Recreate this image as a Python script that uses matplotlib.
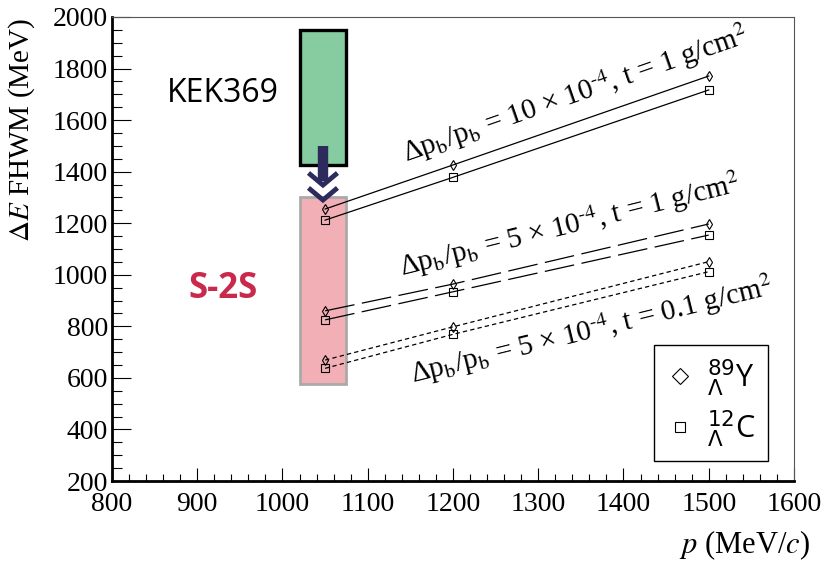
import matplotlib
matplotlib.use("Agg")
import matplotlib.pyplot as plt
from matplotlib.patches import Rectangle
from matplotlib.lines import Line2D
from matplotlib.font_manager import FontProperties
from matplotlib.ticker import MultipleLocator

plt.rcParams['font.family'] = ['Liberation Serif', 'DejaVu Serif']
plt.rcParams['mathtext.fontset'] = 'stix'

# ---- data ----
p_values = [1050, 1200, 1500]
y89_res10 = [1255, 1426, 1771]
c12_res10 = [1212, 1378, 1717]
y89_res5 = [860, 964, 1197]
c12_res5 = [825, 934, 1154]
y89_res5_thin = [669, 798, 1051]
c12_res5_thin = [637, 769, 1012]

kek_box = (1020, 1075, 1425, 1950)   # xmin, xmax, ymin, ymax
s2s_box = (1020, 1075, 575, 1300)

x_ticks = [800, 900, 1000, 1100, 1200, 1300, 1400, 1500, 1600]
y_ticks = [200, 400, 600, 800, 1000, 1200, 1400, 1600, 1800, 2000]

labels = [
    'Δp$_\\mathrm{b}$/p$_\\mathrm{b}$ = 10 × 10$^{\\text{-}4}$, t = 1 g/cm$^2$',
    'Δp$_\\mathrm{b}$/p$_\\mathrm{b}$ = 5 × 10$^{\\text{-}4}$, t = 1 g/cm$^2$',
    'Δp$_\\mathrm{b}$/p$_\\mathrm{b}$ = 5 × 10$^{\\text{-}4}$, t = 0.1 g/cm$^2$',
]
label_pos = [(1344, 1702, 19.2), (1337, 1192, 14.0), (1362, 784, 13.8)]

fig = plt.figure(figsize=(8.35, 5.61), dpi=100)
ax = fig.add_axes([0.1341, 0.1426, 0.9509 - 0.1341, 0.9697 - 0.1426])
ax.set_xlim(800, 1600)
ax.set_ylim(200, 2000)

# boxes
ax.add_patch(Rectangle((kek_box[0], kek_box[2]), kek_box[1] - kek_box[0], kek_box[3] - kek_box[2],
                       facecolor='#87CCA0', edgecolor='black', lw=2.4, zorder=1))
ax.add_patch(Rectangle((s2s_box[0], s2s_box[2]), s2s_box[1] - s2s_box[0], s2s_box[3] - s2s_box[2],
                       facecolor='#F2AFB6', edgecolor='#AAAAAA', lw=2.0, zorder=1))

# arrow
xc = (kek_box[0] + kek_box[1]) / 2
navy = '#2D2B5C'
ax.plot([xc, xc], [kek_box[2] + 75, kek_box[2] - 60], color=navy, lw=7.5, solid_capstyle='butt', zorder=2)
hw = 17
for top, tip in [(1395, 1348), (1337, 1290)]:
    ax.plot([xc - hw, xc, xc + hw], [top, tip, top], color=navy, lw=3.5,
            solid_joinstyle='miter', solid_capstyle='butt', zorder=2)

# series
lw = 0.9
ms = 5.5
def series(y, marker, ls, dashes=None):
    ln, = ax.plot(p_values, y, color='black', lw=lw, ls=ls, marker=marker, ms=ms,
                  mfc='none', mec='black', mew=0.8, zorder=3)
    if dashes is not None:
        ln.set_dashes(dashes)
    return ln

series(y89_res10, 'd', '-')
series(c12_res10, 's', '-')
series(y89_res5, 'd', '--', (24, 6))
series(c12_res5, 's', '--', (24, 6))
series(y89_res5_thin, 'd', ':', (3.5, 2.5))
series(c12_res5_thin, 's', ':', (3.5, 2.5))

for lab, (x, y, r) in zip(labels, label_pos):
    ax.text(x, y, lab, rotation=r, rotation_mode='anchor', ha='center', va='center',
            fontsize=21, zorder=4)

# box labels
ax.text(930, 1705, 'KEK369', family='Open Sans', fontsize=23, ha='center', va='center')
ax.text(930, 945, 'S-2S', family='Open Sans', fontweight='bold', fontsize=25,
        color='#C92A4C', ha='center', va='center')

# legend
handles = [Line2D([], [], ls='none', marker='D', ms=8.5, mfc='none', mec='black', mew=0.8),
           Line2D([], [], ls='none', marker='s', ms=7.5, mfc='none', mec='black', mew=0.8)]
leg = ax.legend(handles, [r'$^{89}_{\Lambda}$Y', r'$^{12}_{\Lambda}$C'],
                loc='lower right', bbox_to_anchor=(0.962, 0.043),
                prop=FontProperties(family='Open Sans', size=22, math_fontfamily='dejavusans'),
                frameon=True, fancybox=False, edgecolor='black', framealpha=1,
                handlelength=0.9, handletextpad=0.45, labelspacing=0.33, borderpad=0.4,
                borderaxespad=0)
leg.get_frame().set_linewidth(1.0)

# axes styling
ax.set_xticks(x_ticks)
ax.set_yticks(y_ticks)
ax.xaxis.set_minor_locator(MultipleLocator(20))
ax.yaxis.set_minor_locator(MultipleLocator(50))
ax.tick_params(which='both', direction='in', top=False, right=False, labelsize=20, width=0.8)
ax.tick_params(axis='x', which='major', length=9.5, pad=8)
ax.tick_params(axis='x', which='minor', length=5)
ax.tick_params(axis='y', which='major', length=14, pad=3)
ax.tick_params(axis='y', which='minor', length=7)
for s in ['left', 'bottom']:
    ax.spines[s].set_linewidth(2.0)
for s in ['top', 'right']:
    ax.spines[s].set_linewidth(0.8)
    ax.spines[s].set_color('#555555')

fig.text(810 / 835, 1 - 545 / 561, r'$p$ (MeV/$c$)', fontsize=22, ha='right', va='center')
fig.text(22 / 835, 1 - 18 / 561, r'$\Delta E$ FHWM (MeV)', fontsize=21, rotation=90,
         ha='center', va='top')

fig.savefig('out.png', dpi=100)
